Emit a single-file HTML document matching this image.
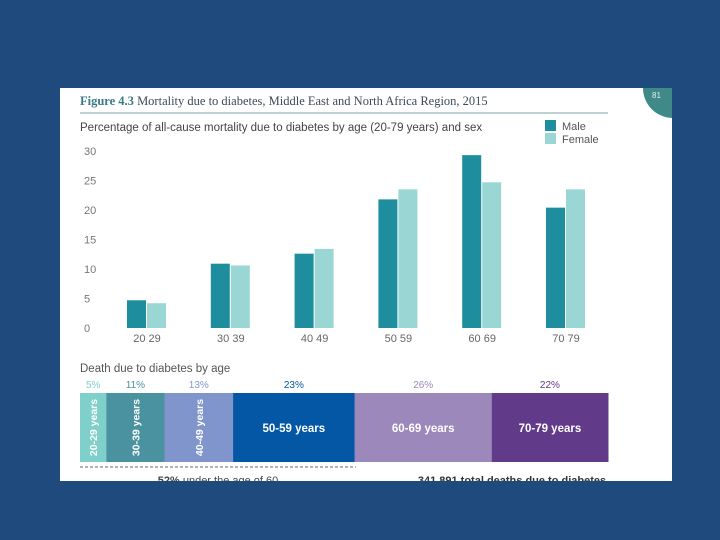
<!DOCTYPE html>
<html><head><meta charset="utf-8"><style>
body{margin:0;width:720px;height:540px;background:#1f4a7d;overflow:hidden;font-family:"Liberation Sans",sans-serif}
svg{position:absolute;left:0;top:0}
</style></head><body>
<svg width="720" height="540">
<rect x="60" y="88" width="612" height="393" fill="#fff"/>
<path d="M643,88 H672 V118 A30,30 0 0 1 643,88 Z" fill="#3f8a88"/>
<text x="652" y="98" font-size="8" fill="#dfeeee">81</text>
<text x="80" y="105" font-size="12.5" fill="#3c4a5a" font-family="Liberation Serif,serif"><tspan font-weight="bold" fill="#3a7a86">Figure 4.3</tspan> Mortality due to diabetes, Middle East and North Africa Region, 2015</text>
<line x1="80" y1="113" x2="608" y2="113" stroke="#7fa3ab" stroke-width="1"/>
<text x="80" y="131" font-size="11.5" fill="#444">Percentage of all-cause mortality due to diabetes by age (20-79 years) and sex</text>
<rect x="545" y="120" width="11" height="11" fill="#1e8e9e"/>
<text x="562" y="130" font-size="11" fill="#555">Male</text>
<rect x="545" y="133" width="11" height="11" fill="#9ad6d4"/>
<text x="562" y="143" font-size="11" fill="#555">Female</text>
<g id="axis"></g><g id="bars"></g><g id="seg"></g>
<text x="80" y="372" font-size="11.5" fill="#555">Death due to diabetes by age</text>
<line x1="80" y1="467" x2="356" y2="467" stroke="#666" stroke-width="1" stroke-dasharray="3,2"/>
<text x="218" y="484" font-size="11" fill="#444" text-anchor="middle"><tspan font-weight="bold">52%</tspan> under the age of 60</text>
<text x="512" y="484" font-size="11" fill="#333" font-weight="bold" text-anchor="middle">341,891 total deaths due to diabetes</text>
<rect x="0" y="481" width="720" height="59" fill="#1f4a7d"/>
</svg>
<script>
const categories=["20-29","30-39","40-49","50-59","60-69","70-79"];
const male=[4.7,10.9,12.6,21.8,29.3,20.4];
const female=[4.2,10.6,13.4,23.5,24.7,23.5];
const yTicks=[0,5,10,15,20,25,30];
const segLabels=["20-29 years","30-39 years","40-49 years","50-59 years","60-69 years","70-79 years"];
const segPct=[5,11,13,23,26,22];
const segColors=["#7fcfca","#4a92a0","#7f95cc","#0357a5","#9c88bb","#623a8a"];
const NS="http://www.w3.org/2000/svg";
function mk(t,a,p){const e=document.createElementNS(NS,t);for(const k in a)e.setAttribute(k,a[k]);p.appendChild(e);return e;}
const y=v=>328-v*5.9;
const gx=i=>147+i*83.8;
const ax=document.getElementById('axis'),bars=document.getElementById('bars'),seg=document.getElementById('seg');
yTicks.forEach(v=>{const t=mk('text',{x:84,y:y(v)+4,'font-size':11,fill:'#777'},ax);t.textContent=v;

});
categories.forEach((c,i)=>{
 const m=mk('rect',{x:gx(i)-20,y:y(male[i]),width:19,height:328-y(male[i]),fill:'#1e8e9e'},bars);
 
 
 const f=mk('rect',{x:gx(i),y:y(female[i]),width:19,height:328-y(female[i]),fill:'#9ad6d4'},bars);
 
 
 const t=mk('text',{x:gx(i),y:342,'font-size':11,fill:'#666','text-anchor':'middle'},bars);t.textContent=c.replace('-',' ');
 
 
});
const total=segPct.reduce((a,b)=>a+b,0);let x0=80;const W=528;
segPct.forEach((p,i)=>{
 const w=p/total*W;
 const r=mk('rect',{x:x0,y:393,width:w+0.5,height:69,fill:segColors[i]},seg);
 
 
 const pt=mk('text',{x:x0+w/2,y:388,'font-size':10,fill:segColors[i],'text-anchor':'middle'},seg);pt.textContent=p+'%';
 
 
 let lt;
 if(w<80){lt=mk('text',{x:0,y:0,'font-size':10.5,'font-weight':'bold',fill:'#fff','text-anchor':'middle',transform:`translate(${x0+w/2+4},427.5) rotate(-90)`},seg);}
 else{lt=mk('text',{x:x0+w/2,y:432,'font-size':11.5,'font-weight':'bold',fill:'#fff','text-anchor':'middle'},seg);}
 lt.textContent=segLabels[i];
 
 
 x0+=w;
});
</script>
</body></html>
